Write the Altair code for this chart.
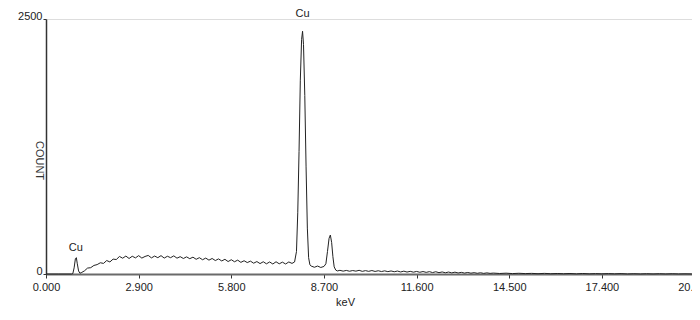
import altair as alt
import pandas as pd

# EDS spectrum (energy in keV, counts)
energy_kev = [
    0.0, 0.4, 0.8,
    0.84, 0.88, 0.92, 0.95, 0.98, 1.02, 1.06, 1.10,
    1.2, 1.3, 1.4, 1.5, 1.6, 1.7, 1.8, 1.9, 2.0, 2.1, 2.2, 2.3, 2.4, 2.5, 2.6, 2.7, 2.8, 2.9,
    3.0, 3.1, 3.2, 3.3, 3.4, 3.5, 3.6, 3.7, 3.8, 3.9, 4.0, 4.1, 4.2, 4.3, 4.4, 4.5, 4.6, 4.7, 4.8, 4.9,
    5.0, 5.1, 5.2, 5.3, 5.4, 5.5, 5.6, 5.7, 5.8, 5.9, 6.0, 6.1, 6.2, 6.3, 6.4, 6.5, 6.6, 6.7, 6.8, 6.9,
    7.0, 7.1, 7.2, 7.3, 7.4, 7.5, 7.6, 7.7, 7.78,
    7.84, 7.88, 7.92, 7.96, 8.00, 8.03, 8.06, 8.10, 8.14, 8.18, 8.22, 8.26, 8.30,
    8.4, 8.5, 8.6, 8.7,
    8.76, 8.81, 8.86, 8.90, 8.94, 8.98, 9.02, 9.07, 9.12,
    9.2, 9.3, 9.4, 9.5, 9.6, 9.7, 9.8, 9.9, 10.0, 10.1, 10.2, 10.3, 10.4, 10.5, 10.6, 10.7, 10.8, 10.9,
    11.0, 11.1, 11.2, 11.3, 11.4, 11.5, 11.6, 11.7, 11.8, 11.9, 12.0, 12.1, 12.2, 12.3, 12.4, 12.5, 12.6,
    12.7, 12.8, 12.9, 13.0, 13.1, 13.2, 13.3, 13.4, 13.5, 13.6, 13.7, 13.8, 13.9,
    14.0, 14.2, 14.4, 14.6, 14.8, 15.0, 15.2, 15.4, 15.6, 15.8, 16.0, 16.2, 16.4, 16.6, 16.8,
    17.0, 17.2, 17.4, 17.6, 17.8, 18.0, 18.2, 18.4, 18.6, 18.8, 19.0, 19.2, 19.4, 19.6, 19.8,
    20.0, 20.2, 20.4, 20.47,
]
counts = [
    0, 0, 0,
    4, 60, 150, 160, 100, 30, 8, 12,
    30, 58, 62, 84, 92, 110, 104, 132, 118, 146, 142, 172, 155, 176, 152, 174, 158, 180,
    156, 172, 182, 158, 176, 160, 180, 156, 174, 160, 178, 155, 170, 152, 168, 150, 165, 144, 160, 140,
    156, 136, 152, 132, 148, 128, 144, 122, 140, 120, 136, 114, 130, 112, 126, 106, 122, 102, 120, 100,
    118, 98, 120, 100, 116, 98, 118, 104, 118,
    220, 600, 1200, 1900, 2300, 2380, 2250, 1750, 1050, 450, 160, 90, 78,
    66, 78, 64, 74,
    100, 220, 350, 382, 310, 170, 70, 38, 30,
    36, 28, 35, 27, 34, 28, 36, 26, 33, 26, 34, 25, 32, 24, 31, 23, 30, 22,
    29, 20, 28, 19, 26, 18, 25, 17, 24, 16, 23, 14, 22, 13, 20, 12, 19,
    11, 18, 10, 16, 9, 15, 8, 13, 7, 12, 6, 11, 6,
    9, 5, 8, 4, 7, 4, 6, 3, 6, 3, 5, 3, 5, 2, 5,
    2, 4, 2, 4, 2, 4, 1, 3, 1, 3, 1, 3, 1, 3, 1,
    2, 1, 2, 1,
]
assert len(energy_kev) == len(counts)

x_ticks = [0.0, 2.9, 5.8, 8.7, 11.6, 14.5, 17.4, 20.3]
y_ticks = [0, 2500]

peak_labels = ["Cu", "Cu"]
peak_energy = [0.93, 8.03]
peak_counts = [160, 2380]
peak_dy = [-10, -17.5]

df = pd.DataFrame({"keV": energy_kev, "COUNT": counts})

FONT = "Liberation Sans"

# the spectrum axis runs past the right edge of the picture
x_scale = alt.Scale(domain=[0, 20.47], nice=False, zero=False, range=[0, 654])
y_scale = alt.Scale(domain=[0, 2500], nice=False)

line = alt.Chart(df).mark_line(color="#222222", strokeWidth=1, interpolate="linear").encode(
    x=alt.X("keV:Q", scale=x_scale,
            axis=alt.Axis(values=x_ticks, format=".3f", title="keV",
                          labelFlush=False, labelOverlap=False, labelBound=False,
                          grid=False, domainColor="#6a6a6a", domainWidth=2,
                          tickColor="#333333", tickSize=4, labelPadding=3,
                          labelFontSize=11, labelFont=FONT, labelColor="#222222",
                          titleFont=FONT, titleFontSize=11, titleFontWeight="normal",
                          titleColor="#222222", titleX=299, titleY=28,
                          titleBaseline="middle", titleAnchor="start", titleAlign="center")),
    y=alt.Y("COUNT:Q", scale=y_scale,
            axis=alt.Axis(values=y_ticks, format="d", title="COUNT", grid=False,
                          domainColor="#333333", domainWidth=1.5,
                          tickColor="#333333", tickSize=3, labelPadding=1,
                          labelBaseline="alphabetic",
                          labelFontSize=11, labelFont=FONT, labelColor="#222222",
                          titleFont=FONT, titleFontSize=11, titleFontWeight="normal",
                          titleColor="#333333", titleAngle=90, titleX=-2, titleY=141,
                          titleBaseline="top", titleAlign="center")),
)

layers = [line]
for lab, e, c, d in zip(peak_labels, peak_energy, peak_counts, peak_dy):
    ann = pd.DataFrame({"label": [lab], "keV": [e], "COUNT": [c]})
    layers.append(
        alt.Chart(ann).mark_text(font=FONT, fontSize=11, color="#222222",
                                 baseline="middle", align="center", dy=d).encode(
            x=alt.X("keV:Q", scale=x_scale),
            y=alt.Y("COUNT:Q", scale=y_scale),
            text="label:N",
        )
    )

chart = alt.layer(*layers).properties(
    width=646, height=255,
    autosize=alt.AutoSizeParams(type="none"),
    padding={"left": 38, "top": 11, "right": 0, "bottom": 38},
).configure_view(stroke=None).configure(background="white")

chart.save("out.html", embed_options={"renderer": "svg", "actions": False})
